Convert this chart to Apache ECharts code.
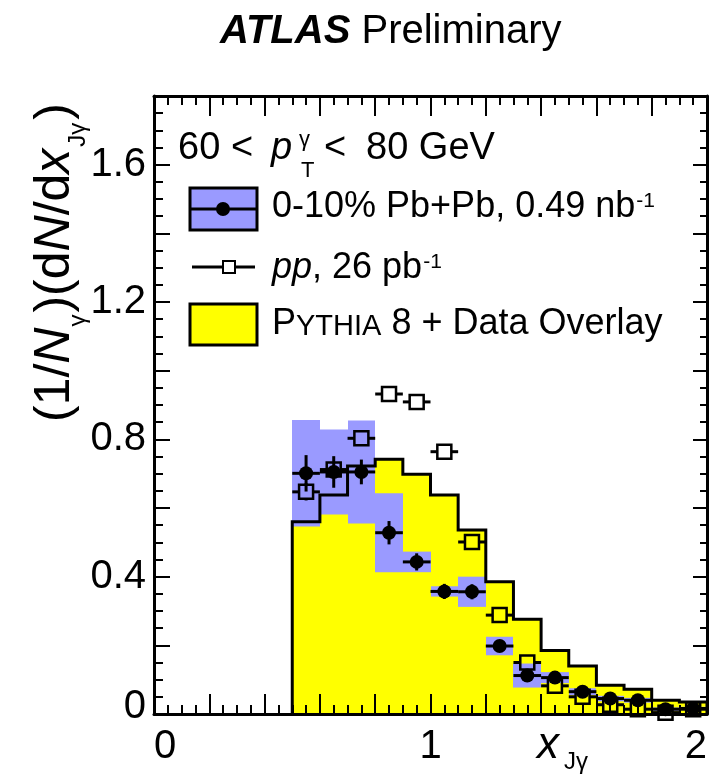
<!DOCTYPE html>
<html>
<head>
<meta charset="utf-8">
<script src="https://cdn.jsdelivr.net/npm/echarts@6/dist/echarts.min.js"></script>
<style>
  html, body { margin: 0; padding: 0; background: #fff; }
  #chart { width: 721px; height: 782px; }
</style>
</head>
<body>
<div id="chart"></div>
<script>
// x_Jgamma bins (edges) for 60 < pT < 80 GeV
const binEdges = [0.5, 0.6, 0.7, 0.8, 0.9, 1.0, 1.1, 1.2, 1.3, 1.4, 1.5, 1.6, 1.7, 1.8, 1.9, 2.0];

// PYTHIA 8 + data overlay (histogram)
const pythiaOverlay = [0.560, 0.638, 0.722, 0.742, 0.698, 0.638, 0.536, 0.385, 0.276, 0.185, 0.140, 0.084, 0.072, 0.040, 0.035];

// 0-10% Pb+Pb: central values, statistical and systematic uncertainties
const pbpbValues = [0.701, 0.705, 0.705, 0.528, 0.443, 0.357, 0.356, 0.198, 0.112, 0.106, 0.065, 0.045, 0.040, 0.014, 0.016];
const pbpbStat   = [0.053, 0.046, 0.036, 0.034, 0.025, 0.022, 0.022, 0.015, 0.012, 0.011, 0.009, 0.008, 0.008, 0.007, 0.007];
const pbpbSys    = [0.155, 0.124, 0.150, 0.115, 0.030, 0.015, 0.044, 0.027, 0.035, 0.016, 0.010, 0.008, 0.007, 0.005, 0.005];

// pp reference
const ppValues = [0.647, 0.712, 0.803, 0.932, 0.909, 0.764, 0.501, 0.288, 0.150, 0.082, 0.050, 0.027, 0.014, 0.004, 0.014];
const ppStat   = [0.025, 0.022, 0.022, 0.020, 0.020, 0.018, 0.015, 0.012, 0.010, 0.008, 0.006, 0.005, 0.004, 0.003, 0.003];

// axis tick labels
const xTickLabels = ['0', '1', '2'];
const yTickLabels = ['0', '0.4', '0.8', '1.2', '1.6'];

const FONT = '"Liberation Sans", Arial, Helvetica, sans-serif';
const BLUE = '#9a9aff';
const YELLOW = '#ffff00';

// ---- derived series data ----
const nBins = pythiaOverlay.length;
const binLo = i => binEdges[i];
const binHi = i => binEdges[i + 1];
const binMid = i => (binEdges[i] + binEdges[i + 1]) / 2;

// step outline of the histogram, closed down to zero at both ends
const histStep = [[binEdges[0], 0]];
for (let i = 0; i < nBins; i++) {
  histStep.push([binLo(i), pythiaOverlay[i]]);
  histStep.push([binHi(i), pythiaOverlay[i]]);
}
histStep.push([binEdges[nBins], 0]);

const sysBoxes = pbpbValues.map((v, i) => [binLo(i), binHi(i), v, pbpbSys[i]]);
const pbpbPoints = pbpbValues.map((v, i) => [binMid(i), v, pbpbStat[i], binLo(i), binHi(i)]);
const ppPoints = ppValues.map((v, i) => [binMid(i), v, ppStat[i], binLo(i), binHi(i)]);

// ---- drawing helpers ----
const seg = (x1, y1, x2, y2, w) => ({
  type: 'line', shape: { x1, y1, x2, y2 }, style: { stroke: '#000', lineWidth: w || 3 }
});

function renderSysBox(params, api) {
  const lo = api.value(0), hi = api.value(1), v = api.value(2), s = api.value(3);
  const a = api.coord([lo, v + s]);
  const b = api.coord([hi, Math.max(v - s, 0)]);
  const x1 = Math.round(a[0]), x2 = Math.round(b[0]);
  return { type: 'rect', shape: { x: x1, y: a[1], width: x2 - x1, height: b[1] - a[1] }, style: { fill: BLUE } };
}

// the whole histogram (fill or outline) is drawn once, from the first item
function histRenderer(mode) {
  return function (params, api) {
    if (params.dataIndex !== 0) return null;
    const pts = histStep.map(p => api.coord(p));
    if (mode === 'fill') {
      return { type: 'polygon', shape: { points: pts }, style: { fill: YELLOW } };
    }
    return { type: 'polyline', shape: { points: pts }, style: { stroke: '#000', lineWidth: 3, fill: 'none', lineJoin: 'miter' } };
  };
}

function renderCircle(params, api) {
  const x = api.value(0), y = api.value(1), e = api.value(2), lo = api.value(3), hi = api.value(4);
  const c = api.coord([x, y]);
  const t = api.coord([x, y + e]);
  const b = api.coord([x, Math.max(y - e, 0)]);
  const l = api.coord([lo, y]);
  const r = api.coord([hi, y]);
  return {
    type: 'group',
    children: [
      seg(l[0], c[1], r[0], c[1]),
      seg(c[0], t[1], c[0], b[1]),
      { type: 'circle', shape: { cx: c[0], cy: c[1], r: 7 }, style: { fill: '#000' } }
    ]
  };
}

function renderSquare(params, api) {
  const x = api.value(0), y = api.value(1), e = api.value(2), lo = api.value(3), hi = api.value(4);
  const h = 7;
  const c = api.coord([x, y]);
  const t = api.coord([x, y + e]);
  const b = api.coord([x, Math.max(y - e, 0)]);
  const l = api.coord([lo, y]);
  const r = api.coord([hi, y]);
  const kids = [];
  if (l[0] < c[0] - h) kids.push(seg(l[0], c[1], c[0] - h, c[1]));
  if (r[0] > c[0] + h) kids.push(seg(c[0] + h, c[1], r[0], c[1]));
  if (t[1] < c[1] - h) kids.push(seg(c[0], t[1], c[0], c[1] - h));
  if (b[1] > c[1] + h) kids.push(seg(c[0], c[1] + h, c[0], b[1]));
  kids.push({
    type: 'rect', shape: { x: c[0] - h, y: c[1] - h, width: 2 * h, height: 2 * h },
    style: { fill: 'none', stroke: '#000', lineWidth: 2.5 }
  });
  return { type: 'group', children: kids };
}

// text runs with mixed sizes (sub/superscripts) laid out on a shared baseline
const measureCtx = document.createElement('canvas').getContext('2d');
function fontCss(p) {
  return (p.italic ? 'italic ' : '') + (p.bold ? 'bold ' : '') + p.size + 'px ' + FONT;
}
function textRun(parts, x, y, rotation) {
  let cx = 0;
  const children = [];
  parts.forEach(p => {
    if (p.at !== undefined) cx = p.at;
    measureCtx.font = fontCss(p);
    const w = measureCtx.measureText(p.text).width;
    children.push({
      type: 'text', x: cx, y: -(p.shift || 0) - 0.35 * p.size,
      style: {
        text: p.text, fontSize: p.size, fontFamily: FONT,
        fontStyle: p.italic ? 'italic' : 'normal', fontWeight: p.bold ? 'bold' : 'normal',
        fill: '#000', align: 'left', verticalAlign: 'middle'
      }
    });
    cx += w + (p.gap || 0);
  });
  return { type: 'group', x, y, rotation: rotation || 0, children, z: 30 };
}

// ---- axes ----
function makeAxis(extra) {
  return Object.assign({
    type: 'value',
    axisLine: { show: true, onZero: false, lineStyle: { color: '#000', width: 3 } },
    splitLine: { show: false },
    minorSplitLine: { show: false },
    z: 10
  }, extra);
}

const xLabelFmt = v => {
  const k = Math.round(v);
  return Math.abs(v - k) < 1e-6 ? xTickLabels[k] : '';
};
const yLabelFmt = v => {
  const k = Math.round(v / 0.4);
  if (Math.abs(v / 0.4 - k) > 1e-6) return '';
  // the zero label sits slightly raised above the corner
  return k === 0 ? '{zero|' + yTickLabels[0] + '}' : yTickLabels[k];
};

const xTickCfg = { show: true, inside: true, length: 20, lineStyle: { color: '#000', width: 2 } };
const xMinorCfg = { show: true, splitNumber: 4, length: 9, lineStyle: { color: '#000', width: 2 } };
const yTickCfg = { show: true, inside: true, length: 16, lineStyle: { color: '#000', width: 2 } };
const yMinorCfg = { show: true, splitNumber: 4, length: 9, lineStyle: { color: '#000', width: 2 } };

const option = {
  animation: false,
  backgroundColor: '#fff',
  grid: { left: 154, top: 96, width: 553, height: 618, containLabel: false, outerBoundsMode: 'none' },
  xAxis: [
    makeAxis({
      position: 'bottom', min: 0, max: 2, interval: 0.2,
      axisTick: xTickCfg, minorTick: xMinorCfg,
      axisLabel: {
        show: true, margin: 13, fontSize: 40, fontFamily: FONT, color: '#000',
        showMinLabel: true, showMaxLabel: true, alignMinLabel: 'left', alignMaxLabel: 'right',
        formatter: xLabelFmt
      }
    }),
    makeAxis({
      position: 'top', min: 0, max: 2, interval: 0.2,
      axisTick: xTickCfg, minorTick: xMinorCfg, axisLabel: { show: false }
    })
  ],
  yAxis: [
    makeAxis({
      position: 'left', min: 0, max: 1.8, interval: 0.2,
      axisTick: yTickCfg, minorTick: yMinorCfg,
      axisLabel: {
        show: true, margin: 8, fontSize: 40, fontFamily: FONT, color: '#000',
        showMinLabel: true, showMaxLabel: true, formatter: yLabelFmt,
        rich: { zero: { fontSize: 40, fontFamily: FONT, color: '#000', padding: [0, 0, 14, 0] } }
      }
    }),
    makeAxis({
      position: 'right', min: 0, max: 1.8, interval: 0.2,
      axisTick: Object.assign({}, yTickCfg, { length: 14 }),
      minorTick: Object.assign({}, yMinorCfg, { length: 7 }),
      axisLabel: { show: false }
    })
  ],
  series: [
    {
      name: 'Pythia fill', type: 'custom', data: histStep, renderItem: histRenderer('fill'),
      encode: { x: 0, y: 1 }, silent: true, z: 1
    },
    {
      name: 'Pb+Pb sys', type: 'custom', data: sysBoxes, renderItem: renderSysBox,
      encode: { x: [0, 1], y: 2 }, silent: true, z: 2
    },
    {
      name: 'Pythia outline', type: 'custom', data: histStep, renderItem: histRenderer('line'),
      encode: { x: 0, y: 1 }, silent: true, z: 3
    },
    {
      name: 'pp', type: 'custom', data: ppPoints, renderItem: renderSquare,
      encode: { x: 0, y: 1 }, silent: true, z: 4
    },
    {
      name: 'Pb+Pb', type: 'custom', data: pbpbPoints, renderItem: renderCircle,
      encode: { x: 0, y: 1 }, silent: true, z: 5
    }
  ],
  graphic: [
    // title
    textRun([
      { text: 'ATLAS', size: 40, bold: true, italic: true },
      { text: ' Preliminary', size: 40 }
    ], 220, 46),
    // y axis title, reading bottom to top
    textRun([
      { text: '(1/', size: 50 },
      { text: 'N', size: 50, italic: true, gap: 1 },
      { text: 'γ', size: 24, shift: -14, gap: 2 },
      { text: ')(d', size: 50 },
      { text: 'N', size: 50, italic: true },
      { text: '/d', size: 50 },
      { text: 'x', size: 50, italic: true, gap: 2 },
      { text: 'Jγ', size: 24, shift: -14, gap: 3 },
      { text: ')', size: 50 }
    ], 73, 422, Math.PI / 2),
    // x axis title
    textRun([
      { text: 'x', size: 44, italic: true, gap: 5 },
      { text: 'Jγ', size: 24, shift: -10 }
    ], 537, 761),
    // kinematic selection
    textRun([
      { text: '60', size: 38, at: 0 },
      { text: '<', size: 38, at: 53 },
      { text: 'p', size: 38, italic: true, at: 93 },
      { text: 'γ', size: 22, shift: 14, at: 121 },
      { text: 'T', size: 22, shift: -17, at: 123 },
      { text: '<', size: 38, at: 146 },
      { text: '80 GeV', size: 38, at: 188 }
    ], 178, 162),
    // legend: Pb+Pb
    { type: 'rect', shape: { x: 190, y: 188, width: 67, height: 42 }, style: { fill: BLUE, stroke: '#000', lineWidth: 3 }, z: 30 },
    { type: 'line', shape: { x1: 190, y1: 209, x2: 257, y2: 209 }, style: { stroke: '#000', lineWidth: 3 }, z: 31 },
    { type: 'circle', shape: { cx: 223, cy: 209, r: 7 }, style: { fill: '#000' }, z: 32 },
    textRun([
      { text: '0-10% Pb+Pb, 0.49 nb', size: 36, gap: 1 },
      { text: '-1', size: 21, shift: 11 }
    ], 272, 220),
    // legend: pp
    { type: 'line', shape: { x1: 192, y1: 267, x2: 255, y2: 267 }, style: { stroke: '#000', lineWidth: 3 }, z: 30 },
    { type: 'rect', shape: { x: 223, y: 261, width: 12, height: 12 }, style: { fill: '#fff', stroke: '#000', lineWidth: 2 }, z: 31 },
    textRun([
      { text: 'pp', size: 36, italic: true },
      { text: ', 26 pb', size: 36, gap: 1 },
      { text: '-1', size: 21, shift: 11 }
    ], 272, 281),
    // legend: PYTHIA
    { type: 'rect', shape: { x: 190, y: 304, width: 67, height: 41 }, style: { fill: YELLOW, stroke: '#000', lineWidth: 3 }, z: 30 },
    textRun([
      { text: 'P', size: 36 },
      { text: 'YTHIA', size: 29 },
      { text: ' 8 + Data Overlay', size: 36 }
    ], 272, 337)
  ]
};

const chart = echarts.init(document.getElementById('chart'), null, { renderer: 'canvas' });
chart.setOption(option);
</script>
</body>
</html>
